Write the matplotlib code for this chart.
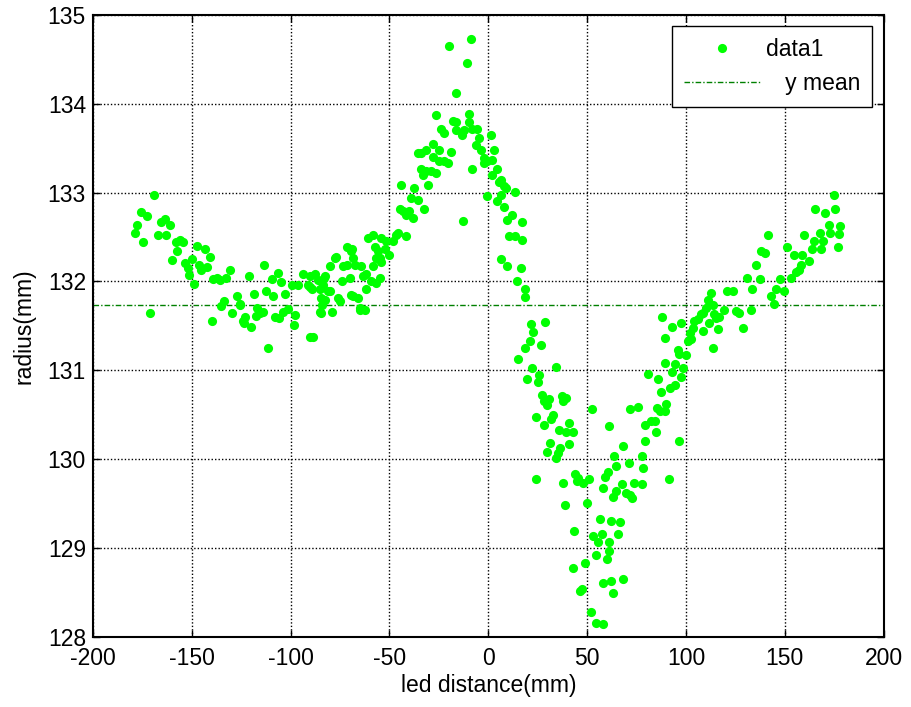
import numpy as np
import matplotlib
matplotlib.use("Agg")
import matplotlib.pyplot as plt

left_arm = np.array([
    (-169.3, 132.97), (-175.8, 132.78), (-172.7, 132.74), (-177.5, 132.63), (-178.6, 132.54),
    (-174.7, 132.44), (-165.6, 132.67), (-163.6, 132.70), (-161.0, 132.63), (-167.3, 132.52),
    (-162.9, 132.52), (-158.1, 132.44), (-155.9, 132.47), (-154.2, 132.44), (-157.4, 132.34),
    (-160.1, 132.24), (-153.4, 132.21), (-151.9, 132.15), (-151.4, 132.07), (-147.2, 132.40),
    (-143.5, 132.37), (-149.7, 132.25), (-148.9, 131.97), (-146.2, 132.19), (-145.2, 132.13),
    (-142.5, 132.16), (-140.9, 132.27), (-171.0, 131.64), (-139.3, 132.03), (-137.1, 132.04),
    (-135.5, 132.02), (-132.9, 132.04), (-130.6, 132.13), (-133.8, 131.78), (-135.1, 131.72),
    (-129.4, 131.64), (-127.0, 131.84), (-125.4, 131.75), (-139.8, 131.55), (-123.0, 131.60),
    (-123.4, 131.53), (-119.9, 131.49), (-120.8, 132.06), (-118.7, 131.86), (-113.3, 132.19),
    (-112.3, 131.89), (-109.4, 132.03), (-108.9, 131.84), (-106.6, 132.09), (-104.9, 131.99),
    (-102.8, 131.86), (-117.0, 131.70), (-115.3, 131.65), (-117.4, 131.61), (-111.6, 131.25),
    (-107.9, 131.60), (-106.1, 131.59), (-103.6, 131.66), (-101.4, 131.69), (-98.2, 131.51),
    (-97.7, 131.62), (-99.4, 131.96), (-96.1, 131.96), (-93.6, 132.08), (-91.0, 131.96),
    (-90.2, 131.37), (-124.1, 131.55), (-125.5, 131.74), (-114.1, 131.66),
])

left_rise = np.array([
    (-90.2, 132.06), (-89.3, 131.92), (-87.7, 132.08), (-85.2, 131.92), (-84.8, 131.81),
    (-84.8, 131.64), (-83.1, 132.04), (-80.1, 131.89), (-79.3, 131.66), (-76.0, 131.81),
    (-88.5, 131.37), (-80.2, 132.17), (-77.6, 132.26), (-73.4, 132.17), (-71.7, 132.39),
    (-69.2, 132.34), (-68.4, 132.26), (-67.6, 132.19), (-64.2, 132.17), (-74.2, 132.00),
    (-70.1, 132.04), (-69.2, 131.85), (-65.9, 131.81), (-65.0, 131.70), (-62.5, 131.68),
    (-61.7, 131.92), (-63.4, 132.06), (-59.2, 132.00), (-58.3, 132.17), (-56.6, 131.98),
    (-54.9, 132.04), (-60.9, 132.49), (-58.3, 132.52), (-55.8, 132.34), (-54.9, 132.26),
    (-54.1, 132.49), (-52.5, 132.36), (-51.6, 132.45), (-50.0, 132.30), (-48.3, 132.45),
    (-46.6, 132.52), (-45.8, 132.54), (-41.6, 132.51), (-54.1, 132.22), (-84.3, 131.74),
    (-85.2, 131.66), (-82.6, 131.79), (-81.0, 131.89), (-75.1, 131.78), (-68.4, 131.84),
    (-76.8, 132.28), (-71.7, 132.19), (-68.7, 132.36), (-62.0, 132.08), (-57.5, 132.39),
    (-56.6, 132.26), (-65.0, 131.68), (-86.0, 132.02), (-82.6, 132.06), (-83.8, 131.96),
    (-90.2, 131.94),
])

peak = np.array([
    (-44.1, 133.09), (-44.9, 132.82), (-43.2, 132.79), (-41.6, 132.75), (-39.9, 132.79),
    (-38.2, 132.71), (-39.0, 132.94), (-37.4, 133.05), (-35.7, 132.92), (-32.3, 132.81),
    (-30.7, 133.09), (-34.0, 133.27), (-33.2, 133.20), (-31.5, 133.24), (-29.0, 133.24),
    (-26.5, 133.22), (-35.7, 133.44), (-34.0, 133.44), (-31.5, 133.48), (-28.2, 133.55),
    (-24.8, 133.48), (-28.2, 133.40), (-24.8, 133.35), (-22.3, 133.35), (-20.6, 133.33),
    (-18.9, 133.46), (-26.5, 133.87), (-23.9, 133.72), (-22.3, 133.67), (-18.1, 133.81),
    (-16.4, 133.80), (-16.4, 133.70), (-13.1, 133.65), (-12.2, 133.70), (-9.7, 133.80),
    (-8.0, 133.72), (-5.5, 133.72), (-6.3, 133.54), (-4.7, 133.61), (-3.8, 133.48),
    (-2.2, 133.39), (-8.0, 133.27), (-2.2, 133.33), (-0.5, 133.35), (1.2, 133.65),
    (2.9, 133.48), (2.0, 133.37), (1.7, 133.20), (4.5, 133.26), (5.4, 133.12),
    (6.2, 133.14), (7.9, 133.07), (9.1, 133.05), (-0.5, 132.96), (4.5, 132.90),
    (6.2, 132.97), (7.9, 132.84), (13.4, 133.01), (9.6, 132.69), (12.1, 132.75),
    (10.4, 132.51), (13.7, 132.51), (17.1, 132.67), (17.1, 132.47), (6.2, 132.25),
    (9.6, 132.17), (16.3, 132.15), (14.6, 132.00), (18.8, 131.92), (18.8, 131.83),
    (-19.8, 134.65), (-8.9, 134.73), (-10.6, 134.46), (-16.1, 134.12), (-9.7, 133.89),
    (-12.7, 132.68),
])

dip = np.array([
    (21.5, 131.52), (28.9, 131.54), (22.5, 131.43), (21.3, 131.33), (26.9, 131.28),
    (18.8, 131.25), (15.1, 131.13), (22.1, 131.03), (34.2, 131.04), (25.8, 130.95),
    (19.6, 130.90), (25.2, 130.87), (27.2, 130.72), (30.5, 130.68), (28.0, 130.65),
    (29.6, 130.61), (37.2, 130.71), (39.1, 130.69), (38.0, 130.66), (24.1, 130.48),
    (32.5, 130.50), (31.9, 130.45), (28.0, 130.39), (35.6, 130.33), (39.1, 130.31),
    (42.6, 130.31), (40.6, 130.41), (31.4, 130.18), (36.4, 130.13), (40.6, 130.17),
    (29.6, 130.08), (35.1, 130.07), (34.1, 130.01), (24.1, 129.78), (38.0, 129.73),
    (38.9, 129.49), (44.0, 129.83), (45.6, 129.79), (44.8, 129.75), (48.1, 129.73),
    (50.7, 129.78), (49.8, 129.51), (43.6, 129.19), (52.7, 130.56), (61.1, 130.37),
    (68.3, 130.15), (63.7, 130.04), (64.6, 129.92), (60.7, 129.86), (59.0, 129.80),
    (58.2, 129.68), (64.6, 129.64), (62.9, 129.57), (67.4, 129.72), (69.9, 129.62),
    (71.6, 129.60), (72.8, 129.56), (73.8, 129.73), (77.5, 129.72), (71.1, 129.96),
    (77.5, 130.04), (78.3, 129.90), (79.2, 130.21), (79.2, 130.39), (71.9, 130.56),
    (75.8, 130.59), (56.5, 129.33), (62.1, 129.31), (66.6, 129.29), (52.8, 129.14),
    (57.3, 129.16), (65.7, 129.16), (55.3, 129.07), (61.1, 129.07), (61.1, 128.97),
    (54.5, 128.92), (59.9, 128.88), (49.0, 128.83), (42.8, 128.78), (46.4, 128.52),
    (47.3, 128.54), (58.2, 128.61), (62.1, 128.63), (68.3, 128.65), (62.9, 128.49),
    (51.8, 128.28), (54.5, 128.16), (58.2, 128.15), (91.2, 129.78),
])

right_arm = np.array([
    (80.8, 130.96), (85.9, 130.90), (87.5, 130.76), (85.5, 130.58), (86.7, 130.54),
    (89.2, 130.54), (90.0, 130.62), (82.5, 130.43), (84.2, 130.43), (85.0, 130.31),
    (96.7, 130.20), (87.8, 131.60), (89.5, 131.36), (92.9, 131.49), (97.6, 131.53),
    (95.9, 131.23), (96.7, 131.18), (100.1, 131.17), (100.9, 131.33), (102.6, 131.35),
    (98.4, 131.03), (97.6, 130.92), (94.2, 131.07), (92.9, 130.98), (91.7, 130.80),
    (94.5, 130.84), (89.5, 131.08), (101.8, 131.42), (103.5, 131.48), (104.3, 131.55),
    (106.0, 131.58), (107.6, 131.63), (108.5, 131.64), (110.2, 131.70), (111.0, 131.79),
    (112.7, 131.87), (113.5, 131.74), (114.4, 131.63), (115.2, 131.59), (116.9, 131.60),
    (116.0, 131.46), (119.4, 131.68), (108.5, 131.44), (111.8, 131.53), (113.5, 131.25),
    (121.0, 131.89), (123.6, 131.89), (125.2, 131.67), (126.9, 131.64), (128.6, 131.48),
    (132.8, 131.68), (133.6, 131.91), (130.8, 132.04), (135.3, 132.19), (137.5, 132.03),
    (138.2, 132.34), (139.8, 132.32), (141.7, 132.52), (142.9, 131.84), (144.6, 131.75),
    (145.4, 131.92), (147.6, 132.03), (149.6, 131.89), (150.9, 132.39), (152.9, 132.04),
    (154.6, 132.30), (155.4, 132.11), (157.1, 132.13), (158.3, 132.19), (158.8, 132.30),
    (159.9, 132.52), (162.1, 132.23), (163.8, 132.36), (164.7, 132.46), (165.5, 132.82),
    (167.7, 132.54), (169.4, 132.46), (168.3, 132.37), (170.5, 132.77), (172.2, 132.64),
    (173.0, 132.55), (174.7, 132.97), (175.6, 132.81), (176.8, 132.39), (177.8, 132.62),
    (177.5, 132.53),
])

y_mean = 131.73

data = np.vstack([left_arm, left_rise, peak, dip, right_arm])

plt.rcParams['font.family'] = ['Liberation Sans', 'DejaVu Sans']
plt.rcParams['font.size'] = 16.5
plt.rcParams['axes.unicode_minus'] = False

fig = plt.figure(figsize=(9.11, 7.07), dpi=100)
ax = fig.add_axes([0.102, 0.099, 0.868, 0.880])

ax.plot(data[:, 0], data[:, 1], 'o', color=(0, 1, 0), markersize=6.6,
        markeredgewidth=0, label='data1', zorder=3)
ax.axhline(y_mean, color=(0, 0.5, 0), linestyle=(0, (4, 1.5, 1, 1.5)),
           linewidth=1, label='   y mean', zorder=2)

ax.set_xlim(-200, 200)
ax.set_ylim(128, 135)
ax.set_xticks(np.arange(-200, 201, 50))
ax.set_yticks(np.arange(128, 136, 1))
ax.grid(True, color='black', linestyle=(0, (1, 1.5)), linewidth=1)
ax.tick_params(direction='in', top=True, right=True, length=5, width=1)
ax.tick_params(axis='x', pad=7)
ax.tick_params(axis='y', pad=5)
for s in ax.spines.values():
    s.set_linewidth(1.5)

ax.set_xlabel('led distance(mm)', labelpad=3)
ax.set_ylabel('radius(mm)', labelpad=9)

leg = ax.legend(loc='upper right', fancybox=False, edgecolor='black',
                framealpha=1, handlelength=3.3, handletextpad=0.3,
                borderaxespad=0.5, labelspacing=0.5, borderpad=0.5)
leg.get_frame().set_linewidth(1)

fig.savefig('out.png', dpi=100)
